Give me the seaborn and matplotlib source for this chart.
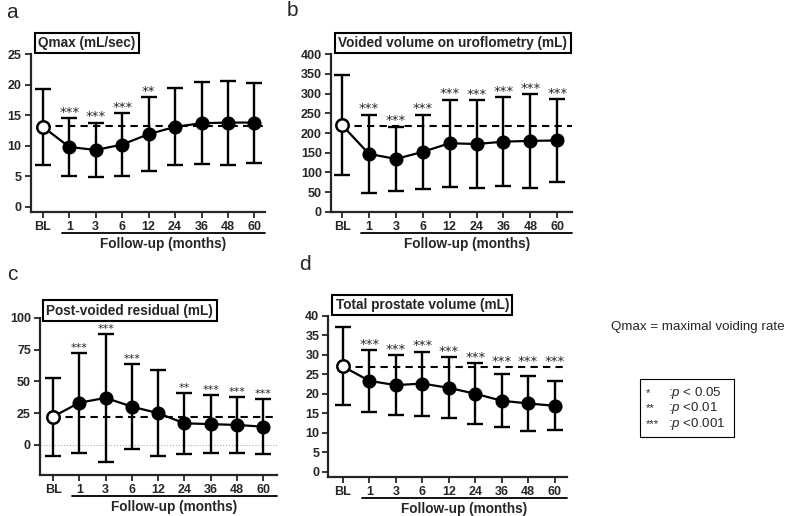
import numpy as np
import matplotlib
matplotlib.use("Agg")
import matplotlib.pyplot as plt
import seaborn as sns
from matplotlib.patches import Rectangle

# Data (mean and SD per visit)
visits = ["BL", "1", "3", "6", "12", "24", "36", "48", "60"]

qmax_mean = [13.1, 9.8, 9.3, 10.2, 11.9, 13.1, 13.7, 13.8, 13.8]
qmax_sd = [6.25, 4.75, 4.5, 5.1, 6.1, 6.3, 6.7, 6.9, 6.55]
qmax_ref = 13.2
qmax_stars = ["", "***", "***", "***", "**", "", "", "", ""]

vv_mean = [220, 147, 134, 152, 174, 172, 178, 180, 181]
vv_sd = [128, 100, 82, 95, 111, 112, 113, 119, 106]
vv_ref = 218
vv_stars = ["", "***", "***", "***", "***", "***", "***", "***", "***"]

pvr_mean = [22.3, 33.2, 37.0, 30.1, 25.0, 17.0, 16.4, 15.7, 14.4]
pvr_sd = [30.7, 39.2, 50.5, 33.2, 33.8, 23.9, 22.7, 21.9, 21.5]
pvr_ref = 22.2
pvr_stars = ["", "***", "***", "***", "", "**", "***", "***", "***"]

tpv_mean = [27.0, 23.3, 22.2, 22.6, 21.5, 20.0, 18.2, 17.5, 16.9]
tpv_sd = [10.0, 8.0, 7.6, 8.2, 7.8, 7.8, 6.8, 7.0, 6.3]
tpv_ref = 26.75
tpv_stars = ["", "***", "***", "***", "***", "***", "***", "***", "***"]

W, H = 787, 516

sns.set_style("ticks")
plt.rcParams["font.family"] = ["Liberation Sans", "DejaVu Sans"]
plt.rcParams["mathtext.fontset"] = "custom"
plt.rcParams["mathtext.rm"] = "Liberation Sans"
plt.rcParams["mathtext.it"] = "Liberation Sans:italic"


def px_box(left, right, top, bottom):
    return [left / W, 1 - bottom / H, (right - left) / W, (bottom - top) / H]


def draw_panel(ax, mean, sd, ref, stars, ylim, yticks, xlim, star_size=9.5, zero_line=False):
    x = np.arange(len(visits))
    mean = np.asarray(mean, dtype=float)
    sd = np.asarray(sd, dtype=float)

    if zero_line:
        ax.axhline(0, color="#aaaaaa", lw=0.8, ls=":", zorder=0)
    ax.hlines(ref, 0, xlim[1], colors="black", linestyles=(0, (3.5, 2.5)), lw=1.5, zorder=1)

    ax.errorbar(x, mean, yerr=sd, fmt="none", ecolor="black", elinewidth=1.7,
                capsize=5.5, capthick=1.7, zorder=2)
    sns.lineplot(x=x, y=mean, ax=ax, color="black", lw=1.6, zorder=3)
    sns.scatterplot(x=x[1:], y=mean[1:], ax=ax, color="black", s=80,
                    edgecolor="black", linewidth=1.2, zorder=4)
    sns.scatterplot(x=x[:1], y=mean[:1], ax=ax, color="white", s=80,
                    edgecolor="black", linewidth=1.8, zorder=4)

    # significance marks sit above the error bar (or the baseline line if higher)
    for xi, top, s in zip(x, mean + sd, stars):
        if s:
            ax.annotate(s, (xi, max(top, ref)), xytext=(0, 1.5), textcoords="offset points",
                        ha="center", va="baseline", fontsize=star_size, family="DejaVu Sans")

    ax.set_xlim(*xlim)
    ax.set_ylim(*ylim)
    ax.set_yticks(yticks)
    ax.set_xticks(x)
    ax.set_xticklabels(visits)
    ax.set_xlabel("")
    ax.set_ylabel("")
    sns.despine(ax=ax)
    for sp in ("left", "bottom"):
        ax.spines[sp].set_linewidth(1.6)
    ax.tick_params(axis="both", direction="out", length=4, width=1.3, pad=2.5)
    for lab in ax.get_xticklabels() + ax.get_yticklabels():
        lab.set_fontweight("bold")
        lab.set_fontsize(9)

    # follow-up underline and label
    hpx = ax.get_position().height * H
    ax.plot([0.72, xlim[1]], [-21 / hpx, -21 / hpx], color="black", lw=1.3,
            transform=ax.get_xaxis_transform(), clip_on=False)
    ax.text((0.72 + xlim[1]) / 2, -32 / hpx, "Follow-up (months)", ha="center", va="center",
            fontsize=9.8, fontweight="bold", transform=ax.get_xaxis_transform())


fig = plt.figure(figsize=(W / 100, H / 100), dpi=100)

ax_a = fig.add_axes(px_box(30.7, 265, 54.3, 211.7))
ax_b = fig.add_axes(px_box(331, 572, 54.3, 211.7))
ax_c = fig.add_axes(px_box(40, 277, 317.7, 475))
ax_d = fig.add_axes(px_box(328.3, 567, 315.7, 476.7))

draw_panel(ax_a, qmax_mean, qmax_sd, qmax_ref, qmax_stars, (-0.82, 25), range(0, 26, 5), (-0.46, 8.4))
draw_panel(ax_b, vv_mean, vv_sd, vv_ref, vv_stars, (0, 400), range(0, 401, 50), (-0.41, 8.55))
draw_panel(ax_c, pvr_mean, pvr_sd, pvr_ref, pvr_stars, (-23.6, 100), range(0, 101, 25), (-0.5, 8.53),
           star_size=8, zero_line=True)
draw_panel(ax_d, tpv_mean, tpv_sd, tpv_ref, tpv_stars, (-1.28, 40), range(0, 41, 5), (-0.55, 8.47))

# panel titles in boxes
box = dict(boxstyle="square,pad=0.25", fc="white", ec="black", lw=1.5)
for xp, yp, t in [(38.5, 43, "Qmax (mL/sec)"),
                  (338.5, 43, "Voided volume on uroflometry (mL)"),
                  (46.5, 310.5, "Post-voided residual (mL)"),
                  (335.5, 305, "Total prostate volume (mL)")]:
    fig.text(xp / W, 1 - yp / H, t, ha="left", va="center", fontsize=9.8,
             fontweight="bold", bbox=box)

# panel letters
for xp, yp, t in [(12, 13, "a"), (292, 11, "b"), (12, 275, "c"), (305, 265, "d")]:
    fig.text(xp / W, 1 - yp / H, t, ha="center", va="center", fontsize=15)

# abbreviation note and significance key
fig.text(785 / W, 1 - 327 / H, "Qmax = maximal voiding rate", ha="right", va="center", fontsize=9.6)
fig.patches.append(Rectangle((640 / W, 1 - 437 / H), 94 / W, 58 / H, transform=fig.transFigure,
                             fill=False, ec="black", lw=0.8))
for yp, s, t in [(393, "*", ":$p$ < 0.05"), (408.5, "**", ":$p$ <0.01"), (424, "***", ":$p$ <0.001")]:
    fig.text(646 / W, 1 - yp / H, s, ha="left", va="center", fontsize=8)
    fig.text(668 / W, 1 - yp / H, t, ha="left", va="center", fontsize=9.6)

fig.savefig("out.png", dpi=100)
